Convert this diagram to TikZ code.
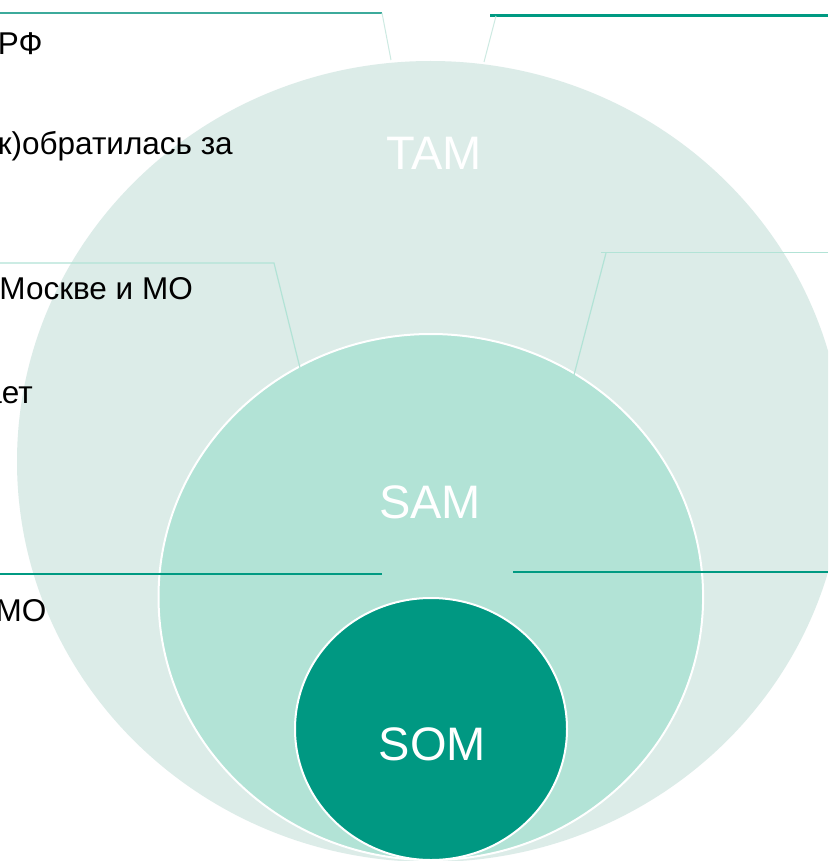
\documentclass[tikz,border=0pt]{standalone}
\usepackage{fontspec}
\setmainfont{Liberation Sans}
\definecolor{tamfill}{RGB}{220,236,232}
\definecolor{samfill}{RGB}{178,227,214}
\definecolor{somfill}{RGB}{0,152,130}
\definecolor{tealline}{RGB}{0,154,130}
\definecolor{tealthin}{RGB}{60,170,155}
\definecolor{mintline}{RGB}{178,227,214}
\definecolor{paleline}{RGB}{205,234,226}
\begin{document}
\begin{tikzpicture}[x=1pt,y=-1pt,
  biglabel/.style={inner sep=0pt, anchor=base, text=white, font=\fontsize{47}{56}\selectfont},
  sidetext/.style={inner sep=0pt, anchor=base east, text=black, font=\fontsize{31.5}{38}\selectfont},
  leader/.style={draw=tealline, line width=2pt},
  paleleader/.style={draw=mintline, line width=1.2pt},
  ring/.style={draw=white, line width=2pt}]
\useasboundingbox (0,0) rectangle (828,861);
\clip (0,0) rectangle (828,861);
\fill[white] (0,0) rectangle (828,861);

% market circles
\path[fill=tamfill] (430.5,461.5) ellipse [x radius=413.5pt, y radius=400.5pt];
\path[fill=samfill, ring] (430.8,597) ellipse [x radius=272.3pt, y radius=263pt];
\path[fill=somfill, ring] (431,729) ellipse [x radius=136pt, y radius=131pt];

% labels
\node[biglabel] (tam) at (434,169) {TAM};
\node[biglabel] (sam) at (430,518) {SAM};
\node[biglabel] (som) at (432.5,760) {SOM};

% side texts (cut by the left edge)
\node[sidetext] (t1) at (42.7,55) {РФ};
\node[sidetext] (t2) at (233,155) {к)обратилась за};
\node[sidetext] (t3) at (193,299.3) {Москве и МО};
\node[sidetext] (t4) at (33,403) {ает};
\node[sidetext] (t5) at (46.5,621.7) {МО};

% leader coordinates
\coordinate (a0) at (0,13);
\coordinate (a1) at (382,13);
\coordinate (a2) at (391,60);
\coordinate (b0) at (828,15.5);
\coordinate (b1) at (490,15.5);
\coordinate (b2) at (496,16);
\coordinate (b3) at (484,62);
\coordinate (c0) at (0,263);
\coordinate (c1) at (274,263);
\coordinate (c2) at (300,368);
\coordinate (d0) at (828,252.7);
\coordinate (d1) at (601,252.7);
\coordinate (d2) at (606,253);
\coordinate (d3) at (574,375);
\coordinate (e0) at (0,574);
\coordinate (e1) at (382,574);
\coordinate (f0) at (828,572);
\coordinate (f1) at (513,572);

% leaders
\draw[draw=tealthin, line width=1.5pt] (a0) -- (a1);
\draw[draw=paleline, line width=1pt] (a1) -- (a2);
\draw[draw=tealline, line width=3pt] (b1) -- (b0);
\draw[draw=paleline, line width=1pt] (b2) -- (b3);
\draw[paleleader] (c0) -- (c1) -- (c2);
\draw[paleleader] (d0) -- (d1);
\draw[paleleader] (d2) -- (d3);
\draw[leader] (e0) -- (e1);
\draw[leader] (f1) -- (f0);
\end{tikzpicture}
\end{document}
